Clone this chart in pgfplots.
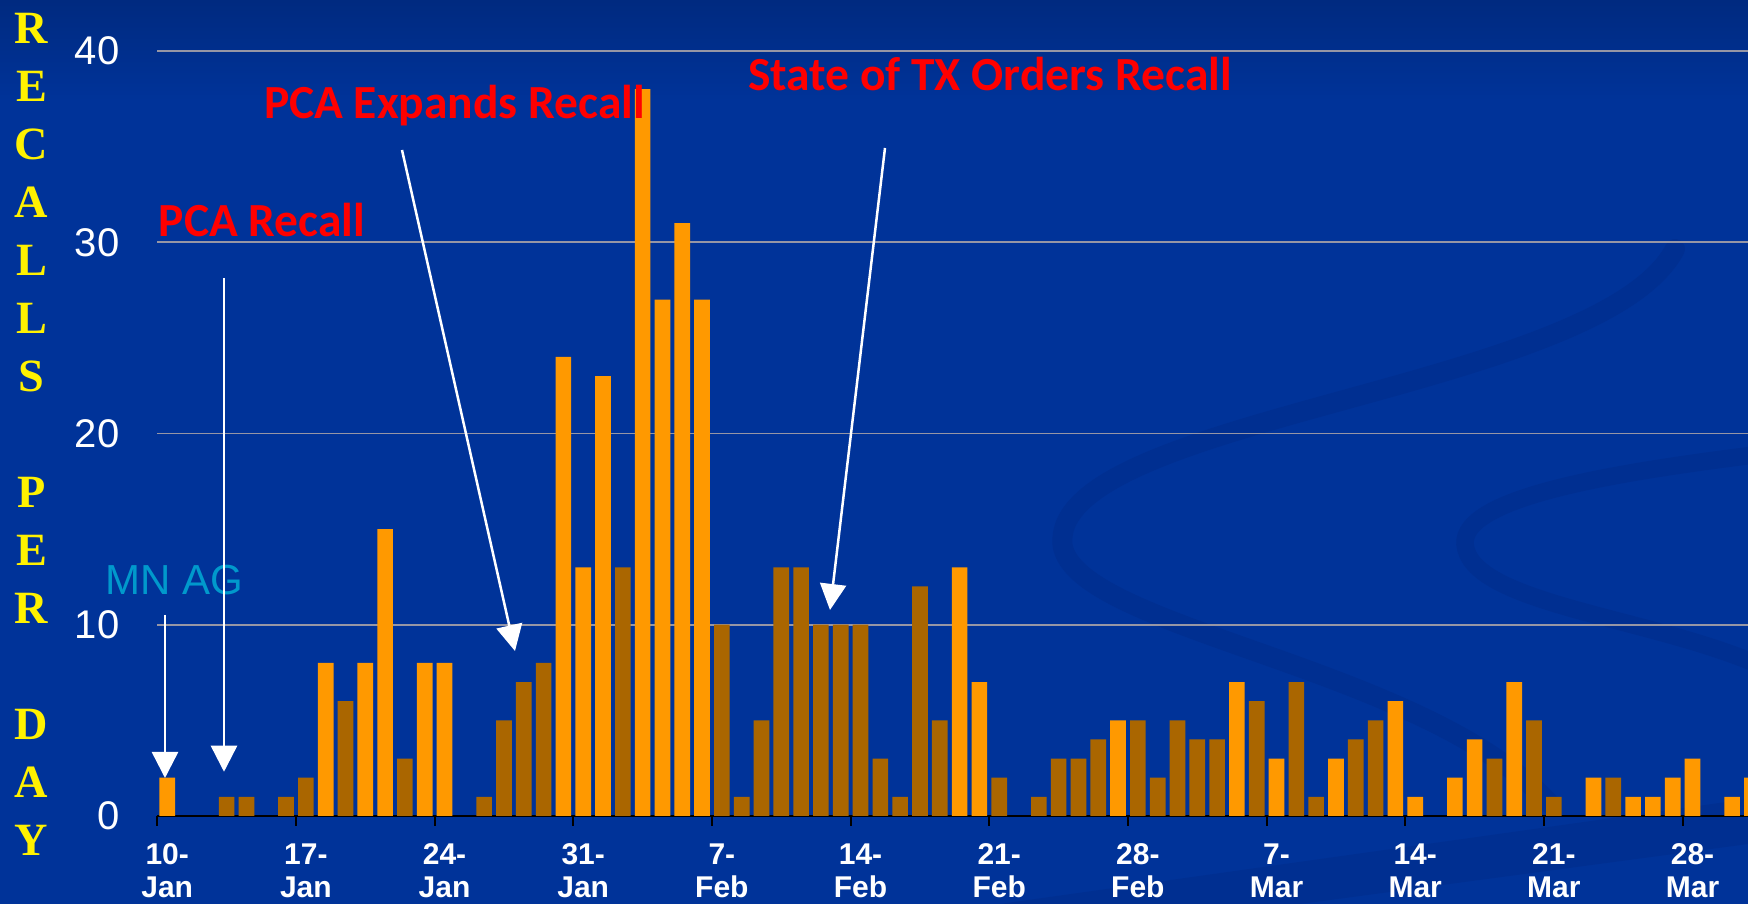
\documentclass[border=0pt]{standalone}
\usepackage{fontspec}
\setmainfont{Liberation Sans}
\newfontfamily\calibrifont{Carlito}
\newfontfamily\serifbold{Liberation Serif}
\usepackage{pgfplots}
\pgfplotsset{compat=1.18}
\usetikzlibrary{arrows.meta}
\definecolor{bgblue}{RGB}{0,51,153}
\definecolor{bgdark}{RGB}{0,42,128}
\definecolor{swoosh}{RGB}{0,47,145}
\definecolor{barorange}{RGB}{255,153,0}
\definecolor{barbrown}{RGB}{170,102,0}
\definecolor{gridgray}{RGB}{150,150,165}
\definecolor{mncyan}{RGB}{0,153,204}
\definecolor{annred}{RGB}{255,0,0}
\begin{document}
\begin{tikzpicture}
\useasboundingbox (0,0) rectangle (699.2pt,361.6pt);
\fill[bgblue] (0,0) rectangle (699.2pt,361.6pt);
\shade[top color=bgdark, bottom color=bgblue] (0,321.6pt) rectangle (699.2pt,361.6pt);
% background swooshes
\begin{scope}
\clip (0,0) rectangle (699.2pt,361.6pt);
\draw[swoosh, line width=8pt, line cap=round] (670pt,262pt) .. controls (640pt,205pt) and (420pt,195pt) .. (425pt,143.6pt) .. controls (430pt,110pt) and (570pt,95pt) .. (620pt,40pt);
\draw[swoosh, line width=7pt] (705pt,180pt) .. controls (640pt,172pt) and (585pt,162pt) .. (586pt,144pt) .. controls (588pt,120pt) and (660pt,115pt) .. (705pt,95pt);
\fill[swoosh] (400pt,0pt) -- (699.2pt,42pt) -- (699.2pt,24pt) -- (520pt,0pt) -- cycle;
\end{scope}
\begin{axis}[
  at={(62.92pt,35.2pt)}, anchor=south west,
  scale only axis, width=636.28pt, height=306pt,
  xmin=-0.5, xmax=79.8, ymin=0, ymax=40,
  axis lines*=left,
  x axis line style={black, line width=0.8pt},
  y axis line style={draw=none},
  ymajorgrids, grid style={gridgray, line width=0.7pt},
  ytick={0,10,20,30,40},
  ytick style={draw=none},
  yticklabel style={font=\fontsize{16}{16}\selectfont, text=white, anchor=east, inner sep=0pt, xshift=-11pt},
  /pgf/number format/assume math mode=true,
  xtick={-0.5,6.5,...,76.5},
  xticklabels={},
  tick align=outside,
  major tick length=4pt,
  xtick style={draw=black, line width=0.8pt},
  extra x ticks={0,7,...,77},
  extra x tick labels={{10-\\Jan},{17-\\Jan},{24-\\Jan},{31-\\Jan},{7-\\Feb},{14-\\Feb},{21-\\Feb},{28-\\Feb},{7-\\Mar},{14-\\Mar},{21-\\Mar},{28-\\Mar}},
  extra x tick style={major tick length=0pt, xmajorgrids=false},
  xticklabel style={font=\bfseries\fontsize{12}{13.2}\selectfont, text=white, align=center, anchor=north, inner sep=0pt, yshift=-10.8pt},
  ybar, bar width=0.79,
  every axis plot/.append style={bar shift=0pt, draw=none},
]
\addplot[fill=barorange, draw=none] coordinates {
(0,2) (8,8) (10,8) (11,15) (13,8) (14,8) (20,24) (21,13) (22,23) (24,38) (25,27) (26,31) (27,27)
(40,13) (41,7) (48,5) (54,7) (56,3) (59,3) (62,6) (63,1) (65,2) (66,4) (68,7) (72,2) (74,1) (75,1) (76,2) (77,3) (79,1) (80,2)};
\addplot[fill=barbrown, draw=none] coordinates {
(3,1) (4,1) (6,1) (7,2) (9,6) (12,3) (16,1) (17,5) (18,7) (19,8) (23,13) (28,10) (29,1) (30,5) (31,13) (32,13)
(33,10) (34,10) (35,10) (36,3) (37,1) (38,12) (39,5) (42,2) (44,1) (45,3) (46,3) (47,4) (49,5) (50,2) (51,5)
(52,4) (53,4) (55,6) (57,7) (58,1) (60,4) (61,5) (67,3) (69,5) (70,1) (73,2)};
\end{axis}
% vertical axis title
\node[anchor=north, align=center, inner sep=0pt, text=yellow, font=\serifbold\bfseries\fontsize{18.5}{23.2}\selectfont] at (12.6pt,356.6pt) {R\\E\\C\\A\\L\\L\\S\\[23.2pt]P\\E\\R\\[23.2pt]D\\A\\Y};
% annotations
\node[inner sep=0pt, text=mncyan, font=\fontsize{16.8}{16.8}\selectfont] at (69.6pt,129.6pt) {MN AG};
\node[anchor=base, inner sep=0pt, text=annred, font=\calibrifont\bfseries\fontsize{19}{19}\selectfont] at (104.8pt,266.8pt) {PCA Recall};
\node[anchor=base, inner sep=0pt, text=annred, font=\calibrifont\bfseries\fontsize{19}{19}\selectfont] at (181.8pt,314pt) {PCA Expands Recall};
\node[anchor=base, inner sep=0pt, text=annred, font=\calibrifont\bfseries\fontsize{19}{19}\selectfont] at (396pt,325.2pt) {State of TX Orders Recall};
\begin{scope}[white, line width=1pt, -{Triangle[width=10.4pt,length=10.4pt]}]
\draw (66pt,115.6pt) -- (66pt,50.4pt);
\draw (89.6pt,250.4pt) -- (89.6pt,52.9pt);
\draw (160.8pt,301.6pt) -- (206pt,101.2pt);
\draw (354pt,302.4pt) -- (332pt,117.6pt);
\end{scope}
\end{tikzpicture}
\end{document}
